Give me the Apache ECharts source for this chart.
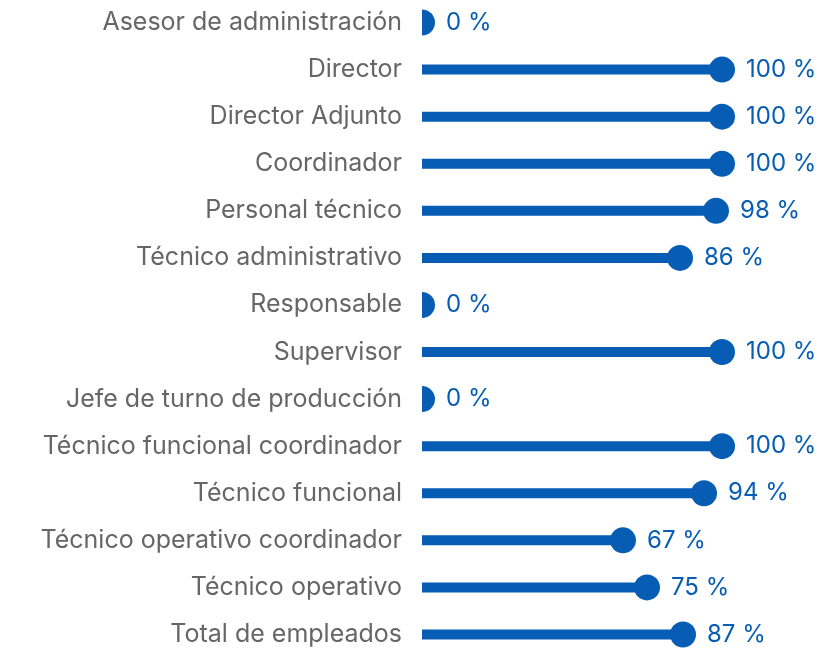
<!DOCTYPE html>
<html>
<head>
<meta charset="utf-8">
<style>
  html, body { margin: 0; padding: 0; background: #ffffff; overflow: hidden; }
  #chart { width: 824px; height: 662px; margin-top: -1px; }
</style>
<script src="https://cdn.jsdelivr.net/npm/echarts@6/dist/echarts.min.js"></script>
</head>
<body>
<div id="chart"></div>
<script>
// Job categories, top to bottom
var categories = [
  'Asesor de administración',
  'Director',
  'Director Adjunto',
  'Coordinador',
  'Personal técnico',
  'Técnico administrativo',
  'Responsable',
  'Supervisor',
  'Jefe de turno de producción',
  'Técnico funcional coordinador',
  'Técnico funcional',
  'Técnico operativo coordinador',
  'Técnico operativo',
  'Total de empleados'
];
// Percentage per category
var percentages = [0, 100, 100, 100, 98, 86, 0, 100, 0, 100, 94, 67, 75, 87];

var blue = '#065db3';
var labelFont = 'Inter';
var dotRadius = 13;

var points = percentages.map(function (v, i) { return [v, i]; });

var chart = echarts.init(document.getElementById('chart'));
chart.setOption({
  animation: false,
  // x axis runs past 100 so the end dots fit inside the clipped plot area
  grid: { left: 422, top: 0, width: 360, height: 659, containLabel: false },
  xAxis: {
    type: 'value', min: 0, max: 120, show: false
  },
  yAxis: {
    type: 'category',
    data: categories,
    inverse: true,
    axisLine: { show: false },
    axisTick: { show: false },
    splitLine: { show: false },
    axisLabel: {
      color: '#666666',
      fontSize: 25,
      fontFamily: labelFont,
      margin: 20
    }
  },
  series: [
    {
      type: 'bar',
      data: percentages,
      barWidth: 10,
      itemStyle: { color: blue },
      silent: true
    },
    {
      // end dots, clipped at the axis origin
      type: 'custom',
      clip: true,
      silent: true,
      data: points,
      encode: { x: 0, y: 1 },
      renderItem: function (params, api) {
        var pt = api.coord([api.value(0), api.value(1)]);
        return {
          type: 'circle',
          shape: { cx: pt[0], cy: pt[1], r: dotRadius },
          style: { fill: blue }
        };
      }
    },
    {
      // value labels to the right of each dot
      type: 'custom',
      clip: false,
      silent: true,
      data: points,
      encode: { x: 0, y: 1 },
      renderItem: function (params, api) {
        var v = api.value(0);
        var pt = api.coord([v, api.value(1)]);
        return {
          type: 'text',
          x: pt[0] + dotRadius + 11,
          y: pt[1],
          style: {
            text: v + ' %',
            fill: blue,
            font: '24px ' + labelFont,
            verticalAlign: 'middle',
            align: 'left'
          }
        };
      }
    }
  ]
});
</script>
</body>
</html>
